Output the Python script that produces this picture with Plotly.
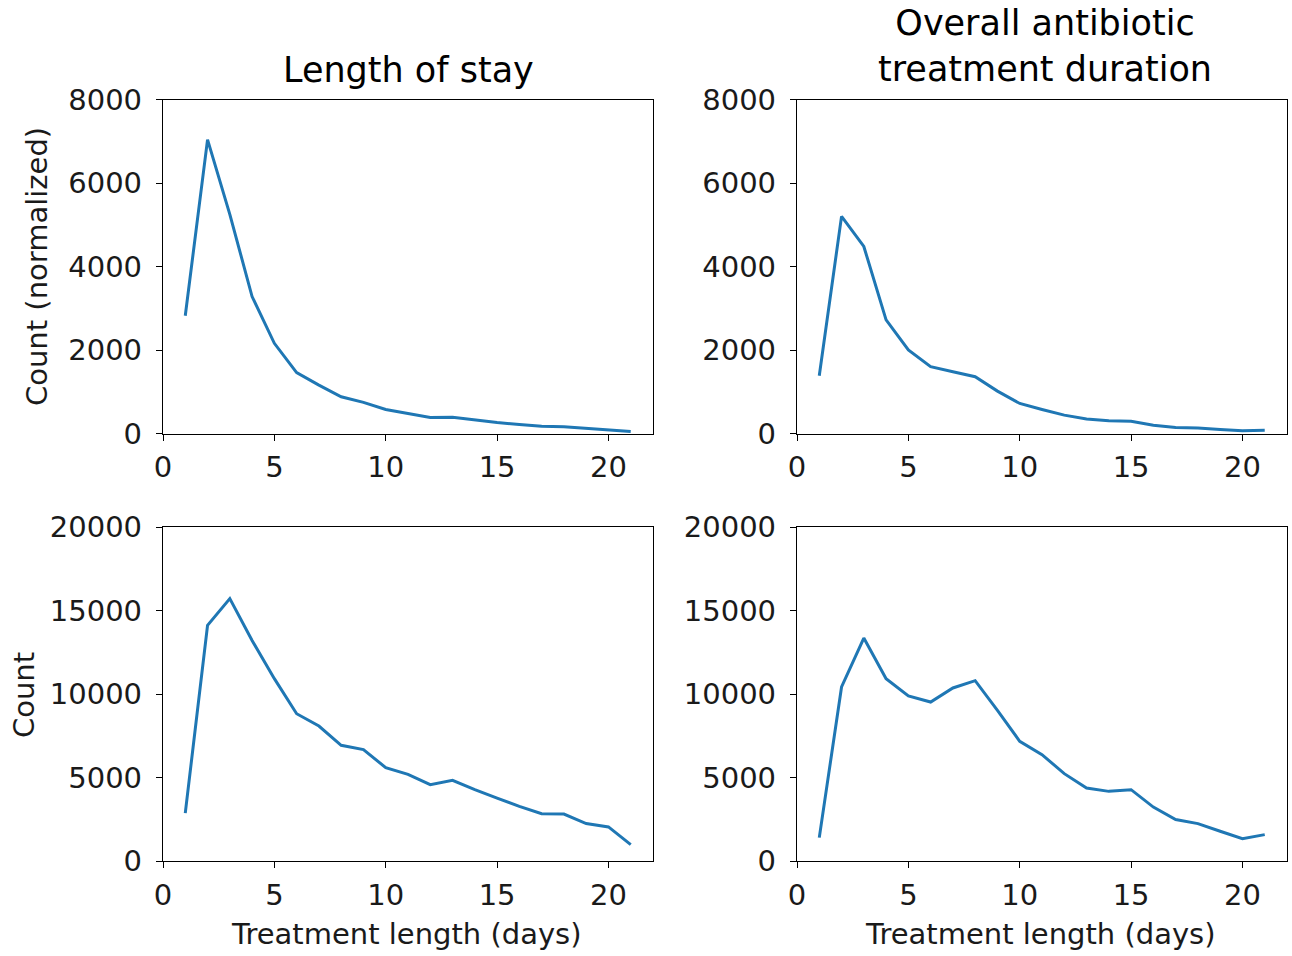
import plotly.graph_objects as go

days = list(range(1, 22))
los_norm = [2820, 7040, 5250, 3280, 2160, 1460, 1160, 880, 745, 575, 480, 385, 390, 320, 265, 215, 175, 160, 120, 95, 50]
abx_norm = [1385, 5200, 4480, 2720, 2000, 1600, 1480, 1360, 1015, 720, 575, 440, 345, 305, 295, 200, 145, 130, 95, 65, 80]
los_count = [2870, 14110, 15710, 13200, 10920, 8820, 8080, 6930, 6670, 5590, 5190, 4570, 4830, 4270, 3770, 3270, 2830, 2810, 2240, 2040, 980]
abx_count = [1400, 10420, 13350, 10920, 9880, 9520, 10360, 10800, 9020, 7170, 6370, 5230, 4370, 4170, 4270, 3230, 2480, 2240, 1780, 1340, 1580]

x_ticks = [0, 5, 10, 15, 20]
top_yticks = [0, 2000, 4000, 6000, 8000]
bot_yticks = [0, 5000, 10000, 15000, 20000]
titles = ["Length of stay", "Overall antibiotic<br>treatment duration"]
xlabel = "Treatment length (days)"
ylabels = ["Count (normalized)", "Count"]

W, H = 1292, 956
def px(x):
    return x / W
def py(y):
    return 1 - y / H

FONT = "DejaVu Sans"
COL = "#1f77b4"
TXT = "#1a1a1a"

fig = go.Figure()
series = [(los_norm, 1), (abx_norm, 2), (los_count, 3), (abx_count, 4)]
for ys, i in series:
    fig.add_trace(go.Scatter(x=days, y=ys, mode="lines",
                             line=dict(color=COL, width=3),
                             xaxis="x" if i == 1 else f"x{i}",
                             yaxis="y" if i == 1 else f"y{i}",
                             showlegend=False))

xdoms = [[px(163), px(653)], [px(797), px(1287)]]
ydoms = [[py(433.5), py(99.5)], [py(861), py(527)]]

axis_common = dict(showline=True, linecolor="black", linewidth=1.3, mirror=True,
                   ticks="outside", ticklen=6, tickwidth=1.3, tickcolor="black",
                   showgrid=False, zeroline=False, automargin=False,
                   tickfont=dict(family=FONT, size=29, color=TXT))

layout = dict(width=W, height=H, margin=dict(l=0, r=0, t=0, b=0, autoexpand=False),
              plot_bgcolor="white", paper_bgcolor="white", showlegend=False)

for i in range(4):
    row, col = divmod(i, 2)
    xn = "xaxis" if i == 0 else f"xaxis{i+1}"
    yn = "yaxis" if i == 0 else f"yaxis{i+1}"
    ya = "y" if i == 0 else f"y{i+1}"
    xa = "x" if i == 0 else f"x{i+1}"
    yt = top_yticks if row == 0 else bot_yticks
    layout[xn] = dict(axis_common, domain=xdoms[col], range=[0, 22],
                      tickvals=x_ticks, ticktext=[str(v) for v in x_ticks], anchor=ya,
                      ticklabelstandoff=2)
    layout[yn] = dict(axis_common, domain=ydoms[row], range=[0, yt[-1]],
                      tickvals=yt, ticktext=[str(v) for v in yt], anchor=xa,
                      ticklabelstandoff=8)

fig.update_layout(**layout)

ann = []
ann.append(dict(text=titles[0], x=px(408), y=py(70), xref="paper", yref="paper",
                showarrow=False, font=dict(family=FONT, size=35, color="black"),
                xanchor="center", yanchor="middle"))
ann.append(dict(text=titles[1], x=px(1045), y=py(46), xref="paper", yref="paper",
                showarrow=False, font=dict(family=FONT, size=35, color="black"),
                xanchor="center", yanchor="middle"))
for cx in [406, 1040]:
    ann.append(dict(text=xlabel, x=px(cx), y=py(934), xref="paper", yref="paper",
                    showarrow=False, font=dict(family=FONT, size=29, color=TXT),
                    xanchor="center", yanchor="middle"))
ann.append(dict(text=ylabels[0], x=px(37), y=py(267), xref="paper", yref="paper",
                showarrow=False, textangle=-90, font=dict(family=FONT, size=29, color=TXT),
                xanchor="center", yanchor="middle"))
ann.append(dict(text=ylabels[1], x=px(24), y=py(695), xref="paper", yref="paper",
                showarrow=False, textangle=-90, font=dict(family=FONT, size=29, color=TXT),
                xanchor="center", yanchor="middle"))
fig.update_layout(annotations=ann)

# remove the browser's default 8px body margin so the figure fills the window exactly
fig.write_html("out.html", config={"displayModeBar": False},
               post_script="document.body.style.margin='0px';")
